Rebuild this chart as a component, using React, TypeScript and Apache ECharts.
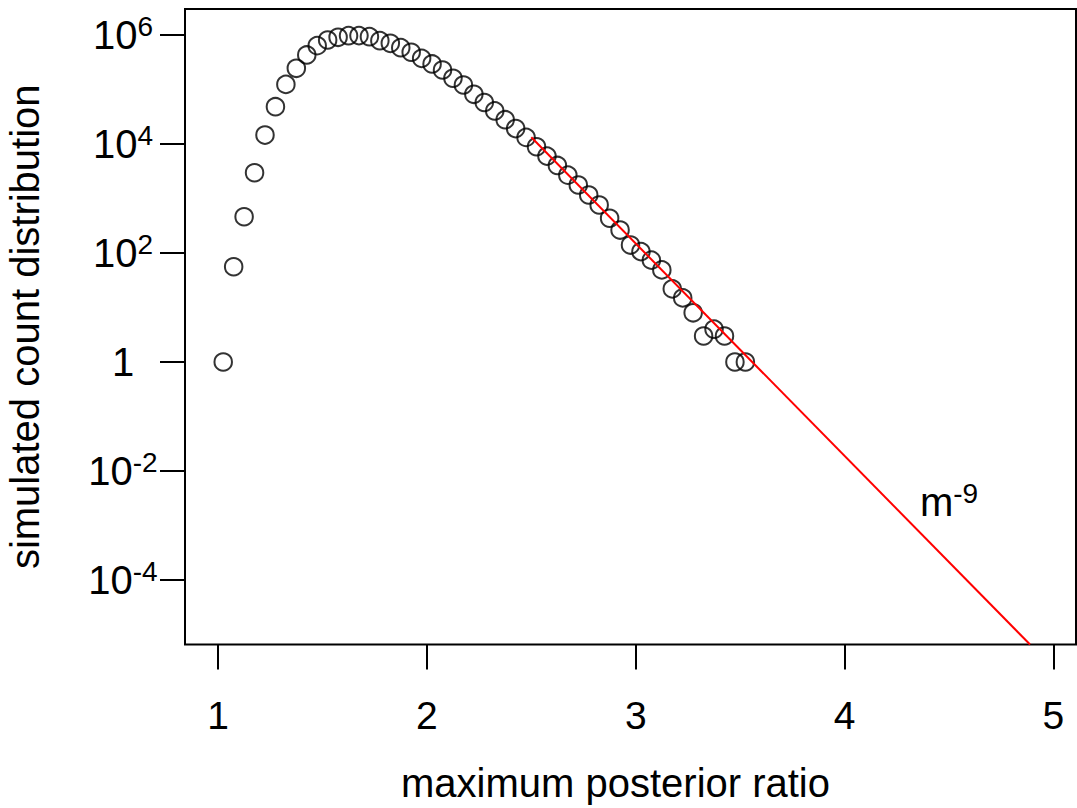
import React, { useEffect, useRef } from "react";
import * as echarts from "echarts";

// maximum posterior ratio (bin centres) and simulated counts
const ratio = [
  1.025, 1.075, 1.125, 1.175, 1.225, 1.275, 1.325, 1.375, 1.425, 1.475,
  1.525, 1.575, 1.625, 1.675, 1.725, 1.775, 1.825, 1.875, 1.925, 1.975,
  2.025, 2.075, 2.125, 2.175, 2.225, 2.275, 2.325, 2.375, 2.425, 2.475,
  2.525, 2.575, 2.625, 2.675, 2.725, 2.775, 2.825, 2.875, 2.925, 2.975,
  3.025, 3.075, 3.125, 3.175, 3.225, 3.275, 3.325, 3.375, 3.425, 3.475,
  3.525,
];
const counts = [
  1, 56, 463, 2970, 14600, 48300, 124000, 245000, 430000, 637000,
  810000, 908000, 971000, 975000, 931000, 786000, 704000, 585000, 482000, 373000,
  294000, 228000, 161000, 121000, 81700, 57700, 40400, 27900, 19200, 13200,
  8900, 6000, 4040, 2680, 1770, 1160, 760, 434, 264, 140,
  106, 74, 49, 22, 15, 8, 3, 4, 3, 1,
  1,
];
// fitted power-law guide line (end points)
const fitRatio = [2.5, 4.888];
const fitCount = [13270, 6.56e-6];
// axis ticks
const xTicks = [1, 2, 3, 4, 5];
const yTickExponents = [-4, -2, 0, 2, 4, 6];
const xRange = [0.842, 5.108];
const yRangeExp = [-5.183, 6.477];
// annotation
const annotation = { ratio: 4.5, count: 2.7e-3, text: "m", exp: "-9" };

const FONT = "'Liberation Sans', Arial, sans-serif";

export default function App() {
  const ref = useRef<HTMLDivElement>(null);
  useEffect(() => {
    if (!ref.current) return;
    const chart = echarts.init(ref.current, null, { renderer: "svg" });
    const points = ratio.map((r, i) => [r, Math.log10(counts[i])]);
    const fit = fitRatio.map((r, i) => [r, Math.log10(fitCount[i])]);
    chart.setOption({
      animation: false,
      backgroundColor: "#ffffff",
      textStyle: { fontFamily: FONT },
      grid: {
        left: 185,
        top: 9,
        right: 1,
        bottom: 163.5,
        containLabel: false,
        outerBoundsMode: "none",
        show: true,
        borderColor: "#000",
        borderWidth: 2,
        backgroundColor: "transparent",
      },
      xAxis: {
        type: "value",
        min: xRange[0],
        max: xRange[1],
        name: "maximum posterior ratio",
        nameLocation: "middle",
        nameGap: 118,
        nameTextStyle: { fontSize: 40, color: "#000", fontFamily: FONT, padding: [0, 30, 0, 0] },
        axisLine: { show: false, onZero: false },
        splitLine: { show: false },
        axisTick: {
          show: true,
          customValues: xTicks,
          length: 25,
          lineStyle: { color: "#000", width: 2 },
        },
        axisLabel: {
          customValues: xTicks,
          fontSize: 39,
          color: "#000",
          fontFamily: FONT,
          margin: 51,
        },
      },
      yAxis: {
        type: "value",
        min: yRangeExp[0],
        max: yRangeExp[1],
        name: "simulated count distribution",
        nameLocation: "middle",
        nameGap: 140,
        nameRotate: 90,
        nameTextStyle: { fontSize: 40, color: "#000", fontFamily: FONT },
        axisLine: { show: false, onZero: false },
        splitLine: { show: false },
        axisTick: {
          show: true,
          customValues: yTickExponents,
          length: 25,
          lineStyle: { color: "#000", width: 2 },
        },
        axisLabel: {
          customValues: yTickExponents,
          align: "center",
          margin: 62,
          color: "#000",
          fontFamily: FONT,
          formatter: (v: number) => (Math.abs(v) < 1e-9 ? "{b|1}" : `{b|10}{s|${Math.round(v)}}`),
          rich: {
            b: { fontSize: 40, color: "#000", fontFamily: FONT, lineHeight: 42 },
            s: { fontSize: 28, color: "#000", fontFamily: FONT, lineHeight: 42, padding: [0, 0, 17, 0] },
          },
        },
      },
      series: [
        {
          type: "scatter",
          data: points,
          symbol: "circle",
          symbolSize: 17.5,
          itemStyle: { color: "transparent", borderColor: "#000", borderWidth: 2 },
          z: 2,
        },
        {
          type: "line",
          data: fit,
          symbol: "none",
          lineStyle: { color: "#ff0000", width: 2 },
          z: 3,
          markPoint: {
            symbol: "circle",
            symbolSize: 0,
            data: [
              {
                coord: [annotation.ratio, Math.log10(annotation.count)],
                label: {
                  show: true,
                  position: "inside",
                  formatter: `{b|${annotation.text}}{s|${annotation.exp}}`,
                  rich: {
                    b: { fontSize: 40, color: "#000", fontFamily: FONT, lineHeight: 42 },
                    s: { fontSize: 28, color: "#000", fontFamily: FONT, lineHeight: 42, padding: [0, 0, 18, 0] },
                  },
                },
              },
            ],
          },
        },
      ],
    });
    return () => chart.dispose();
  }, []);
  return (
    <div
      ref={ref}
      style={{ position: "absolute", left: 0, top: 0, width: 1077, height: 808, background: "#fff" }}
    />
  );
}
